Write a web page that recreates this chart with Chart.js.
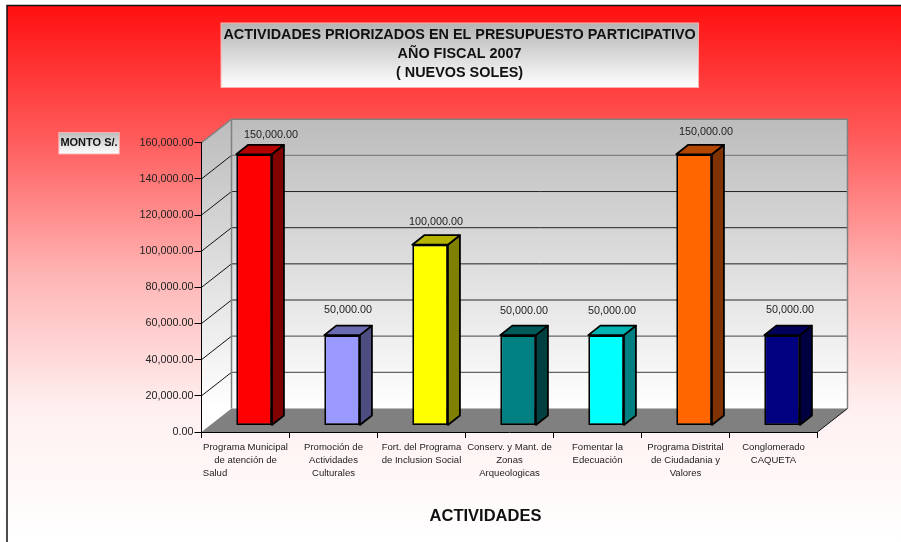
<!DOCTYPE html>
<html>
<head>
<meta charset="utf-8">
<style>
  html, body { margin: 0; padding: 0; background: #fff; }
  canvas { display: block; }
</style>
<script src="https://cdn.jsdelivr.net/npm/chart.js@4"></script>
</head>
<body>
<canvas id="chart" width="901" height="542"></canvas>
<script>
const categories = [
    ['Programa Municipal', 'de atención de', 'Salud\u00a0\u00a0\u00a0\u00a0\u00a0\u00a0\u00a0\u00a0\u00a0\u00a0\u00a0\u00a0\u00a0\u00a0\u00a0\u00a0\u00a0\u00a0\u00a0\u00a0\u00a0\u00a0\u00a0'],
    ['Promoción de', 'Actividades', 'Culturales'],
    ['Fort. del Programa', 'de Inclusion Social'],
    ['Conserv. y Mant. de', 'Zonas', 'Arqueologicas'],
    ['Fomentar la', 'Edecuación'],
    ['Programa Distrital', 'de Ciudadania y', 'Valores'],
    ['Conglomerado', 'CAQUETA']
];
const montos = [150000, 50000, 100000, 50000, 50000, 150000, 50000];
const barColors = ['#ff0000', '#9999ff', '#ffff00', '#008080', '#00ffff', '#ff6600', '#000080'];
const titleLines = ['ACTIVIDADES PRIORIZADOS EN EL PRESUPUESTO PARTICIPATIVO', 'AÑO FISCAL 2007', '( NUEVOS SOLES)'];
const xTitle = 'ACTIVIDADES';
const yTitle = 'MONTO S/.';

// hand placed value labels, offset from the top of each bar
const labelNudge = [[17, -19.5], [6, -25], [6, -23], [6, -24], [6, -24], [12, -22], [8, -25]];

const FONT = '"Liberation Sans", Arial, sans-serif';
const fmt = new Intl.NumberFormat('en-US', { minimumFractionDigits: 2, maximumFractionDigits: 2 });

// 3d look: wall depth, and how far the bars sit behind the front of the floor
const wallDx = 30, wallDy = 23.5;
const barDx = 8.6, barDy = -6.5;
const sideDx = 12, sideDy = 9.5;

function shade(hex, f) {
    const n = parseInt(hex.slice(1), 16);
    const c = [n >> 16, (n >> 8) & 255, n & 255].map(v => Math.round(v * f));
    return `rgb(${c[0]},${c[1]},${c[2]})`;
}

function greyBox(ctx, x, y, w, h, from) {
    const g = ctx.createLinearGradient(0, y, 0, y + h);
    g.addColorStop(0, from);
    g.addColorStop(1, '#ffffff');
    ctx.fillStyle = g;
    ctx.fillRect(x, y, w, h);
    ctx.strokeStyle = '#ffb0b0';
    ctx.lineWidth = 1;
    ctx.strokeRect(x, y, w, h);
}

const scene = {
    id: 'scene',
    beforeDraw(chart) {
        const { ctx, chartArea: a } = chart;
        const y = chart.scales.y;
        ctx.save();

        // page background
        const bg = ctx.createLinearGradient(0, 6, 0, 542);
        bg.addColorStop(0, '#ff1010');
        bg.addColorStop(0.25, '#ff5c5c');
        bg.addColorStop(0.5, '#ffb4b4');
        bg.addColorStop(0.75, '#fff0f0');
        bg.addColorStop(1, '#ffffff');
        ctx.fillStyle = bg;
        ctx.fillRect(7, 5.5, 894, 537);
        ctx.strokeStyle = '#111';
        ctx.lineWidth = 1.5;
        ctx.beginPath();
        ctx.moveTo(7, 542);
        ctx.lineTo(7, 5.5);
        ctx.lineTo(901, 5.5);
        ctx.stroke();

        // walls
        const wall = ctx.createLinearGradient(0, a.top - wallDy, 0, a.bottom - wallDy);
        wall.addColorStop(0, '#bcbcbc');
        wall.addColorStop(1, '#ffffff');
        ctx.fillStyle = wall;
        ctx.fillRect(a.left + wallDx, a.top - wallDy, a.width, a.height);
        ctx.beginPath();
        ctx.moveTo(a.left, a.top);
        ctx.lineTo(a.left + wallDx, a.top - wallDy);
        ctx.lineTo(a.left + wallDx, a.bottom - wallDy);
        ctx.lineTo(a.left, a.bottom);
        ctx.closePath();
        ctx.fill();

        // grid lines from the ticks, across the side wall and the back wall
        y.ticks.forEach(t => {
            if (t.value === 0 || t.value === y.max) return;
            const py = y.getPixelForValue(t.value);
            ctx.strokeStyle = '#111';
            ctx.lineWidth = 1;
            ctx.beginPath();
            ctx.moveTo(a.left, py);
            ctx.lineTo(a.left + wallDx, py - wallDy);
            ctx.stroke();
            ctx.strokeStyle = t.value === 140000 ? '#808080' : (t.value < 70000 ? '#666' : '#222');
            ctx.lineWidth = t.value < 70000 || t.value === 140000 ? 1.3 : 1;
            ctx.beginPath();
            ctx.moveTo(a.left + wallDx, py - wallDy);
            ctx.lineTo(a.right + wallDx, py - wallDy);
            ctx.stroke();
        });

        // floor
        ctx.fillStyle = '#808080';
        ctx.beginPath();
        ctx.moveTo(a.left, a.bottom);
        ctx.lineTo(a.left + wallDx, a.bottom - wallDy);
        ctx.lineTo(a.right + wallDx, a.bottom - wallDy);
        ctx.lineTo(a.right, a.bottom);
        ctx.closePath();
        ctx.fill();

        // wall outline
        ctx.strokeStyle = '#808080';
        ctx.lineWidth = 1.5;
        ctx.beginPath();
        ctx.moveTo(a.left, a.top);
        ctx.lineTo(a.left + wallDx, a.top - wallDy);
        ctx.lineTo(a.right + wallDx, a.top - wallDy);
        ctx.lineTo(a.right + wallDx, a.bottom - wallDy);
        ctx.moveTo(a.left + wallDx, a.top - wallDy);
        ctx.lineTo(a.left + wallDx, a.bottom - wallDy);
        ctx.stroke();
        ctx.strokeStyle = '#111';
        ctx.lineWidth = 1;
        ctx.beginPath();
        ctx.moveTo(a.right, a.bottom);
        ctx.lineTo(a.right + wallDx, a.bottom - wallDy);
        ctx.stroke();

        // boxes behind the titles
        greyBox(ctx, 221, 23, 477.5, 64.5, '#b4b4b4');
        greyBox(ctx, 58.8, 132.5, 60.5, 21.5, '#bcbcbc');
        ctx.restore();
    },
    beforeDatasetDraw(chart) {
        const ctx = chart.ctx;
        ctx.save();
        ctx.translate(barDx, barDy);
        // side and top faces go behind the front face
        chart.getDatasetMeta(0).data.forEach((bar, i) => {
            const left = bar.x - bar.width / 2, right = bar.x + bar.width / 2;
            ctx.lineWidth = 1.8;
            ctx.strokeStyle = '#000';
            ctx.lineJoin = 'round';
            ctx.fillStyle = shade(barColors[i], 0.5);
            ctx.beginPath();
            ctx.moveTo(right, bar.y);
            ctx.lineTo(right + sideDx, bar.y - sideDy);
            ctx.lineTo(right + sideDx, bar.base - sideDy);
            ctx.lineTo(right, bar.base);
            ctx.closePath();
            ctx.fill();
            ctx.stroke();
            ctx.fillStyle = shade(barColors[i], 0.7);
            ctx.beginPath();
            ctx.moveTo(left, bar.y);
            ctx.lineTo(left + sideDx, bar.y - sideDy);
            ctx.lineTo(right + sideDx, bar.y - sideDy);
            ctx.lineTo(right, bar.y);
            ctx.closePath();
            ctx.fill();
            ctx.stroke();
        });
    },
    afterDatasetDraw(chart) {
        chart.ctx.restore();
    },
    afterDraw(chart) {
        const ctx = chart.ctx;
        ctx.save();
        ctx.textAlign = 'center';
        ctx.textBaseline = 'middle';

        // value labels
        ctx.font = '10.8px ' + FONT;
        ctx.fillStyle = '#222';
        chart.getDatasetMeta(0).data.forEach((bar, i) => {
            ctx.fillText(fmt.format(montos[i]), bar.x + barDx + labelNudge[i][0], bar.y + barDy + labelNudge[i][1]);
        });

        ctx.fillStyle = '#111';
        ctx.font = 'bold 11px ' + FONT;
        ctx.fillText(yTitle, 89, 142.5);
        ctx.font = 'bold 16.5px ' + FONT;
        ctx.fillText(xTitle, 485.5, 516);
        ctx.restore();
    }
};

new Chart(document.getElementById('chart'), {
    type: 'bar',
    data: {
        labels: categories,
        datasets: [{
            data: montos,
            backgroundColor: barColors,
            borderColor: '#000',
            borderWidth: 1.8,
            borderSkipped: false,
            barPercentage: 0.405,
            categoryPercentage: 1,
            clip: false
        }]
    },
    options: {
        responsive: false,
        animation: false,
        layout: { padding: { left: 101.7, right: 83.5, top: 0, bottom: 10 } },
        plugins: {
            legend: { display: false },
            tooltip: { enabled: false },
            title: {
                display: true,
                text: titleLines,
                color: '#111',
                font: { family: FONT, size: 14.4, weight: 'bold', lineHeight: 1.32 },
                padding: { top: 25.5, bottom: 60.2 }
            }
        },
        scales: {
            x: {
                offset: true,
                afterFit: s => { s.height = 100; },
                border: { display: true, color: '#000', width: 1 },
                grid: { offset: true, drawOnChartArea: false, drawTicks: true, tickLength: 6, color: '#000' },
                ticks: {
                    color: '#222',
                    font: { family: FONT, size: 9.55, lineHeight: 1.36 },
                    padding: 3,
                    maxRotation: 0,
                    autoSkip: false
                }
            },
            y: {
                min: 0,
                max: 160000,
                afterFit: s => { s.width = 99.8; },
                border: { display: true, color: '#000', width: 1 },
                grid: { drawOnChartArea: false, drawTicks: true, tickLength: 7, color: '#000' },
                ticks: {
                    stepSize: 20000,
                    color: '#222',
                    font: { family: FONT, size: 10.8 },
                    padding: 1,
                    callback: v => fmt.format(v)
                }
            }
        }
    },
    plugins: [scene]
});
</script>
</body>
</html>
